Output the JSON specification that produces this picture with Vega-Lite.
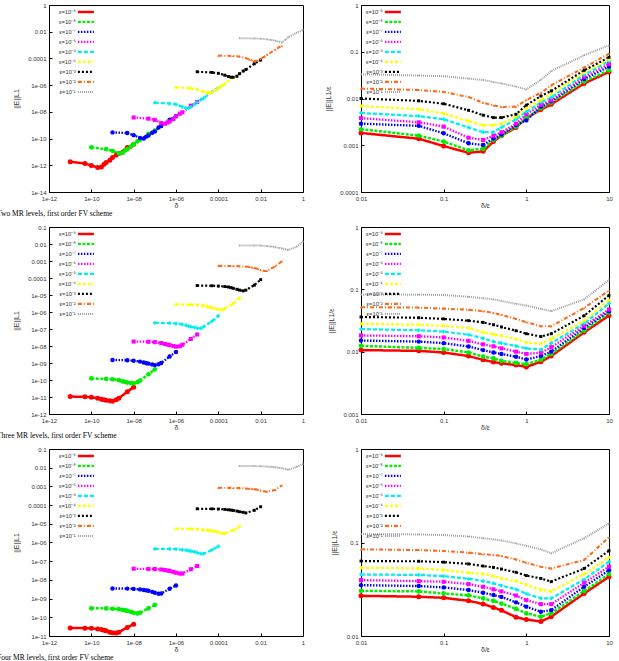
{
"$schema":"https://vega.github.io/schema/vega-lite/v6.json",
"padding":{"left":-4,"top":1,"right":5,"bottom":0},
"config":{
 "view":{"stroke":"#000","strokeWidth":1},
 "style":{"guide-label":{"fontSize":6}},
 "axis":{"grid":false,"domain":false,"tickColor":"#000","tickSize":-3,"labelFont":"Liberation Sans","labelFontSize":6,"labelColor":"#333","labelPadding":6,"labelFlush":false,"labelOverlap":false,"labelBound":false,"titleFont":"Liberation Sans","titleFontSize":7,"titleFontWeight":"normal","titleColor":"#333"},
 "axisX":{"titlePadding":0},
 "axisY":{"titlePadding":8.5},
 "legend":{"labelFont":"Liberation Sans","labelFontSize":5.8,"labelColor":"#333","rowPadding":0,"padding":0,"symbolStrokeWidth":2},
 "title":{"font":"Liberation Serif","fontSize":7.5,"fontWeight":"normal","color":"#000"}
},
"data":{"values":[
{"l":2,"k":9,"r":0.01,"q":0.00183,"d":1e-11,"e":1.83e-12},{"l":2,"k":9,"r":0.05,"q":0.00138,"d":5e-11,"e":1.38e-12},{"l":2,"k":9,"r":0.1,"q":0.00096,"d":1e-10,"e":9.6e-13},{"l":2,"k":9,"r":0.2,"q":0.00069,"d":2e-10,"e":6.9e-13},{"l":2,"k":9,"r":0.3,"q":0.00074,"d":3e-10,"e":7.4e-13},{"l":2,"k":9,"r":0.4,"q":0.0012,"d":4e-10,"e":1.2e-12},{"l":2,"k":9,"r":0.5,"q":0.0016,"d":5e-10,"e":1.6e-12},{"l":2,"k":9,"r":0.75,"q":0.0024,"d":7.5e-10,"e":2.4e-12},{"l":2,"k":9,"r":1,"q":0.0038,"d":1e-9,"e":3.8e-12},{"l":2,"k":9,"r":1.5,"q":0.0058,"d":1.5e-9,"e":5.8e-12},{"l":2,"k":9,"r":2,"q":0.0075,"d":2e-9,"e":7.5e-12},{"l":2,"k":9,"r":5,"q":0.021,"d":5e-9,"e":2.1e-11},{"l":2,"k":9,"r":10,"q":0.037,"d":1e-8,"e":3.7e-11},
{"l":2,"k":8,"r":0.01,"q":0.0022,"d":1e-10,"e":2.2e-11},{"l":2,"k":8,"r":0.05,"q":0.0016,"d":5e-10,"e":1.6e-11},{"l":2,"k":8,"r":0.1,"q":0.0012,"d":1e-9,"e":1.2e-11},{"l":2,"k":8,"r":0.2,"q":0.00078,"d":2e-9,"e":7.8e-12},{"l":2,"k":8,"r":0.3,"q":0.00084,"d":3e-9,"e":8.4e-12},{"l":2,"k":8,"r":0.4,"q":0.0013,"d":4e-9,"e":1.3e-11},{"l":2,"k":8,"r":0.5,"q":0.0016,"d":5e-9,"e":1.6e-11},{"l":2,"k":8,"r":0.75,"q":0.0025,"d":7.5e-9,"e":2.5e-11},{"l":2,"k":8,"r":1,"q":0.0038,"d":1e-8,"e":3.8e-11},{"l":2,"k":8,"r":1.5,"q":0.0062,"d":1.5e-8,"e":6.2e-11},{"l":2,"k":8,"r":2,"q":0.0082,"d":2e-8,"e":8.2e-11},{"l":2,"k":8,"r":5,"q":0.023,"d":5e-8,"e":2.3e-10},{"l":2,"k":8,"r":10,"q":0.04,"d":1e-7,"e":4e-10},
{"l":2,"k":7,"r":0.01,"q":0.0029,"d":1e-9,"e":2.9e-10},{"l":2,"k":7,"r":0.05,"q":0.0026,"d":5e-9,"e":2.6e-10},{"l":2,"k":7,"r":0.1,"q":0.0018,"d":1e-8,"e":1.8e-10},{"l":2,"k":7,"r":0.2,"q":0.0011,"d":2e-8,"e":1.1e-10},{"l":2,"k":7,"r":0.3,"q":0.00101,"d":3e-8,"e":1.01e-10},{"l":2,"k":7,"r":0.4,"q":0.0014,"d":4e-8,"e":1.4e-10},{"l":2,"k":7,"r":0.5,"q":0.0017,"d":5e-8,"e":1.7e-10},{"l":2,"k":7,"r":0.75,"q":0.0027,"d":7.5e-8,"e":2.7e-10},{"l":2,"k":7,"r":1,"q":0.0034,"d":1e-7,"e":3.4e-10},{"l":2,"k":7,"r":1.5,"q":0.0067,"d":1.5e-7,"e":6.7e-10},{"l":2,"k":7,"r":2,"q":0.0087,"d":2e-7,"e":8.7e-10},{"l":2,"k":7,"r":5,"q":0.026,"d":5e-7,"e":2.6e-9},{"l":2,"k":7,"r":10,"q":0.048,"d":1e-6,"e":4.8e-9},
{"l":2,"k":6,"r":0.01,"q":0.0038,"d":1e-8,"e":3.8e-9},{"l":2,"k":6,"r":0.05,"q":0.0031,"d":5e-8,"e":3.1e-9},{"l":2,"k":6,"r":0.1,"q":0.0025,"d":1e-7,"e":2.5e-9},{"l":2,"k":6,"r":0.2,"q":0.00145,"d":2e-7,"e":1.45e-9},{"l":2,"k":6,"r":0.3,"q":0.0013,"d":3e-7,"e":1.3e-9},{"l":2,"k":6,"r":0.4,"q":0.0016,"d":4e-7,"e":1.6e-9},{"l":2,"k":6,"r":0.5,"q":0.0019,"d":5e-7,"e":1.9e-9},{"l":2,"k":6,"r":0.75,"q":0.0029,"d":7.5e-7,"e":2.9e-9},{"l":2,"k":6,"r":1,"q":0.0046,"d":1e-6,"e":4.6e-9},{"l":2,"k":6,"r":1.5,"q":0.0073,"d":1.5e-6,"e":7.3e-9},{"l":2,"k":6,"r":2,"q":0.0091,"d":2e-6,"e":9.1e-9},{"l":2,"k":6,"r":5,"q":0.029,"d":5e-6,"e":2.9e-8},{"l":2,"k":6,"r":10,"q":0.055,"d":1e-5,"e":5.5e-8},
{"l":2,"k":5,"r":0.01,"q":0.0049,"d":1e-7,"e":4.9e-8},{"l":2,"k":5,"r":0.05,"q":0.0042,"d":5e-7,"e":4.2e-8},{"l":2,"k":5,"r":0.1,"q":0.0036,"d":1e-6,"e":3.6e-8},{"l":2,"k":5,"r":0.2,"q":0.0024,"d":2e-6,"e":2.4e-8},{"l":2,"k":5,"r":0.3,"q":0.0019,"d":3e-6,"e":1.9e-8},{"l":2,"k":5,"r":0.4,"q":0.0019,"d":4e-6,"e":1.9e-8},{"l":2,"k":5,"r":0.5,"q":0.0024,"d":5e-6,"e":2.4e-8},{"l":2,"k":5,"r":0.75,"q":0.0036,"d":7.5e-6,"e":3.6e-8},{"l":2,"k":5,"r":1,"q":0.0052,"d":1e-5,"e":5.2e-8},{"l":2,"k":5,"r":1.5,"q":0.0082,"d":1.5e-5,"e":8.2e-8},{"l":2,"k":5,"r":2,"q":0.0105,"d":2e-5,"e":1.05e-7},{"l":2,"k":5,"r":5,"q":0.032,"d":5e-5,"e":3.2e-7},{"l":2,"k":5,"r":10,"q":0.063,"d":1e-4,"e":6.3e-7},
{"l":2,"k":4,"r":0.01,"q":0.0069,"d":1e-6,"e":6.9e-7},{"l":2,"k":4,"r":0.05,"q":0.0059,"d":5e-6,"e":5.9e-7},{"l":2,"k":4,"r":0.1,"q":0.0048,"d":1e-5,"e":4.8e-7},{"l":2,"k":4,"r":0.2,"q":0.0033,"d":2e-5,"e":3.3e-7},{"l":2,"k":4,"r":0.3,"q":0.0027,"d":3e-5,"e":2.7e-7},{"l":2,"k":4,"r":0.4,"q":0.0027,"d":4e-5,"e":2.7e-7},{"l":2,"k":4,"r":0.5,"q":0.0029,"d":5e-5,"e":2.9e-7},{"l":2,"k":4,"r":0.75,"q":0.0041,"d":7.5e-5,"e":4.1e-7},{"l":2,"k":4,"r":1,"q":0.0061,"d":1e-4,"e":6.1e-7},{"l":2,"k":4,"r":1.5,"q":0.0092,"d":1.5e-4,"e":9.2e-7},{"l":2,"k":4,"r":2,"q":0.0126,"d":2e-4,"e":1.26e-6},{"l":2,"k":4,"r":5,"q":0.036,"d":5e-4,"e":3.6e-6},{"l":2,"k":4,"r":10,"q":0.069,"d":1e-3,"e":6.9e-6},
{"l":2,"k":3,"r":0.01,"q":0.01,"d":1e-5,"e":1e-5},{"l":2,"k":3,"r":0.05,"q":0.0089,"d":5e-5,"e":8.9e-6},{"l":2,"k":3,"r":0.1,"q":0.0077,"d":1e-4,"e":7.7e-6},{"l":2,"k":3,"r":0.2,"q":0.0056,"d":2e-4,"e":5.6e-6},{"l":2,"k":3,"r":0.3,"q":0.0044,"d":3e-4,"e":4.4e-6},{"l":2,"k":3,"r":0.4,"q":0.0039,"d":4e-4,"e":3.9e-6},{"l":2,"k":3,"r":0.5,"q":0.0039,"d":5e-4,"e":3.9e-6},{"l":2,"k":3,"r":0.75,"q":0.0046,"d":7.5e-4,"e":4.6e-6},{"l":2,"k":3,"r":1,"q":0.0072,"d":1e-3,"e":7.2e-6},{"l":2,"k":3,"r":1.5,"q":0.0113,"d":1.5e-3,"e":1.13e-5},{"l":2,"k":3,"r":2,"q":0.0145,"d":2e-3,"e":1.45e-5},{"l":2,"k":3,"r":5,"q":0.04,"d":5e-3,"e":4e-5},{"l":2,"k":3,"r":10,"q":0.076,"d":1e-2,"e":7.6e-5},
{"l":2,"k":2,"r":0.01,"q":0.0163,"d":1e-4,"e":1.63e-4},{"l":2,"k":2,"r":0.05,"q":0.0152,"d":5e-4,"e":1.52e-4},{"l":2,"k":2,"r":0.1,"q":0.0138,"d":1e-3,"e":1.38e-4},{"l":2,"k":2,"r":0.2,"q":0.0108,"d":2e-3,"e":1.08e-4},{"l":2,"k":2,"r":0.3,"q":0.0081,"d":3e-3,"e":8.1e-5},{"l":2,"k":2,"r":0.4,"q":0.0071,"d":4e-3,"e":7.1e-5},{"l":2,"k":2,"r":0.5,"q":0.0066,"d":5e-3,"e":6.6e-5},{"l":2,"k":2,"r":0.75,"q":0.0067,"d":7.5e-3,"e":6.7e-5},{"l":2,"k":2,"r":1,"q":0.0093,"d":1e-2,"e":9.3e-5},{"l":2,"k":2,"r":1.5,"q":0.0133,"d":1.5e-2,"e":1.33e-4},{"l":2,"k":2,"r":2,"q":0.0191,"d":2e-2,"e":1.91e-4},{"l":2,"k":2,"r":5,"q":0.046,"d":5e-2,"e":4.6e-4},{"l":2,"k":2,"r":10,"q":0.091,"d":1e-1,"e":9.1e-4},
{"l":2,"k":1,"r":0.01,"q":0.0329,"d":1e-3,"e":3.29e-3},{"l":2,"k":1,"r":0.05,"q":0.031,"d":5e-3,"e":3.1e-3},{"l":2,"k":1,"r":0.1,"q":0.03,"d":1e-2,"e":3e-3},{"l":2,"k":1,"r":0.2,"q":0.0266,"d":2e-2,"e":2.66e-3},{"l":2,"k":1,"r":0.3,"q":0.0249,"d":3e-2,"e":2.49e-3},{"l":2,"k":1,"r":0.4,"q":0.0225,"d":4e-2,"e":2.25e-3},{"l":2,"k":1,"r":0.5,"q":0.021,"d":5e-2,"e":2.1e-3},{"l":2,"k":1,"r":0.75,"q":0.018,"d":7.5e-2,"e":1.8e-3},{"l":2,"k":1,"r":1,"q":0.0157,"d":1e-1,"e":1.57e-3},{"l":2,"k":1,"r":1.5,"q":0.025,"d":1.5e-1,"e":2.5e-3},{"l":2,"k":1,"r":2,"q":0.0387,"d":2e-1,"e":3.87e-3},{"l":2,"k":1,"r":5,"q":0.084,"d":5e-1,"e":8.4e-3},{"l":2,"k":1,"r":10,"q":0.137,"d":1,"e":1.37e-2},
{"l":3,"k":9,"r":0.01,"q":0.0106,"d":1e-11,"e":1.06e-11},{"l":3,"k":9,"r":0.05,"q":0.0103,"d":5e-11,"e":1.03e-11},{"l":3,"k":9,"r":0.1,"q":0.0097,"d":1e-10,"e":9.7e-12},{"l":3,"k":9,"r":0.2,"q":0.0085,"d":2e-10,"e":8.5e-12},{"l":3,"k":9,"r":0.3,"q":0.0074,"d":3e-10,"e":7.4e-12},{"l":3,"k":9,"r":0.4,"q":0.0068,"d":4e-10,"e":6.8e-12},{"l":3,"k":9,"r":0.5,"q":0.0065,"d":5e-10,"e":6.5e-12},{"l":3,"k":9,"r":0.75,"q":0.0061,"d":7.5e-10,"e":6.1e-12},{"l":3,"k":9,"r":1,"q":0.0057,"d":1e-9,"e":5.7e-12},{"l":3,"k":9,"r":1.5,"q":0.0069,"d":1.5e-9,"e":6.9e-12},{"l":3,"k":9,"r":2,"q":0.0085,"d":2e-9,"e":8.5e-12},{"l":3,"k":9,"r":5,"q":0.0204,"d":5e-9,"e":2.04e-11},{"l":3,"k":9,"r":10,"q":0.038,"d":1e-8,"e":3.8e-11},
{"l":3,"k":8,"r":0.01,"q":0.0124,"d":1e-10,"e":1.24e-10},{"l":3,"k":8,"r":0.05,"q":0.0115,"d":5e-10,"e":1.15e-10},{"l":3,"k":8,"r":0.1,"q":0.011,"d":1e-9,"e":1.1e-10},{"l":3,"k":8,"r":0.2,"q":0.0097,"d":2e-9,"e":9.7e-11},{"l":3,"k":8,"r":0.3,"q":0.0083,"d":3e-9,"e":8.3e-11},{"l":3,"k":8,"r":0.4,"q":0.0078,"d":4e-9,"e":7.8e-11},{"l":3,"k":8,"r":0.5,"q":0.0071,"d":5e-9,"e":7.1e-11},{"l":3,"k":8,"r":0.75,"q":0.0066,"d":7.5e-9,"e":6.6e-11},{"l":3,"k":8,"r":1,"q":0.0063,"d":1e-8,"e":6.3e-11},{"l":3,"k":8,"r":1.5,"q":0.0074,"d":1.5e-8,"e":7.4e-11},{"l":3,"k":8,"r":2,"q":0.0092,"d":2e-8,"e":9.2e-11},{"l":3,"k":8,"r":5,"q":0.0218,"d":5e-8,"e":2.18e-10},{"l":3,"k":8,"r":10,"q":0.042,"d":1e-7,"e":4.2e-10},
{"l":3,"k":7,"r":0.01,"q":0.0151,"d":1e-9,"e":1.51e-9},{"l":3,"k":7,"r":0.05,"q":0.0145,"d":5e-9,"e":1.45e-9},{"l":3,"k":7,"r":0.1,"q":0.0137,"d":1e-8,"e":1.37e-9},{"l":3,"k":7,"r":0.2,"q":0.0121,"d":2e-8,"e":1.21e-9},{"l":3,"k":7,"r":0.3,"q":0.0106,"d":3e-8,"e":1.06e-9},{"l":3,"k":7,"r":0.4,"q":0.0097,"d":4e-8,"e":9.7e-10},{"l":3,"k":7,"r":0.5,"q":0.0092,"d":5e-8,"e":9.2e-10},{"l":3,"k":7,"r":0.75,"q":0.0083,"d":7.5e-8,"e":8.3e-10},{"l":3,"k":7,"r":1,"q":0.0075,"d":1e-7,"e":7.5e-10},{"l":3,"k":7,"r":1.5,"q":0.0085,"d":1.5e-7,"e":8.5e-10},{"l":3,"k":7,"r":2,"q":0.01,"d":2e-7,"e":1e-9},{"l":3,"k":7,"r":5,"q":0.024,"d":5e-7,"e":2.4e-9},{"l":3,"k":7,"r":10,"q":0.0446,"d":1e-6,"e":4.46e-9},
{"l":3,"k":6,"r":0.01,"q":0.0182,"d":1e-8,"e":1.82e-8},{"l":3,"k":6,"r":0.05,"q":0.0177,"d":5e-8,"e":1.77e-8},{"l":3,"k":6,"r":0.1,"q":0.0169,"d":1e-7,"e":1.69e-8},{"l":3,"k":6,"r":0.2,"q":0.0149,"d":2e-7,"e":1.49e-8},{"l":3,"k":6,"r":0.3,"q":0.0131,"d":3e-7,"e":1.31e-8},{"l":3,"k":6,"r":0.4,"q":0.0122,"d":4e-7,"e":1.22e-8},{"l":3,"k":6,"r":0.5,"q":0.0113,"d":5e-7,"e":1.13e-8},{"l":3,"k":6,"r":0.75,"q":0.01,"d":7.5e-7,"e":1e-8},{"l":3,"k":6,"r":1,"q":0.0092,"d":1e-6,"e":9.2e-9},{"l":3,"k":6,"r":1.5,"q":0.0096,"d":1.5e-6,"e":9.6e-9},{"l":3,"k":6,"r":2,"q":0.0118,"d":2e-6,"e":1.18e-8},{"l":3,"k":6,"r":5,"q":0.026,"d":5e-6,"e":2.6e-8},{"l":3,"k":6,"r":10,"q":0.0475,"d":1e-5,"e":4.75e-8},
{"l":3,"k":5,"r":0.01,"q":0.023,"d":1e-7,"e":2.3e-7},{"l":3,"k":5,"r":0.05,"q":0.022,"d":5e-7,"e":2.2e-7},{"l":3,"k":5,"r":0.1,"q":0.021,"d":1e-6,"e":2.1e-7},{"l":3,"k":5,"r":0.2,"q":0.0187,"d":2e-6,"e":1.87e-7},{"l":3,"k":5,"r":0.3,"q":0.0164,"d":3e-6,"e":1.64e-7},{"l":3,"k":5,"r":0.4,"q":0.0145,"d":4e-6,"e":1.45e-7},{"l":3,"k":5,"r":0.5,"q":0.0137,"d":5e-6,"e":1.37e-7},{"l":3,"k":5,"r":0.75,"q":0.0123,"d":7.5e-6,"e":1.23e-7},{"l":3,"k":5,"r":1,"q":0.0113,"d":1e-5,"e":1.13e-7},{"l":3,"k":5,"r":1.5,"q":0.0108,"d":1.5e-5,"e":1.08e-7},{"l":3,"k":5,"r":2,"q":0.0137,"d":2e-5,"e":1.37e-7},{"l":3,"k":5,"r":5,"q":0.0282,"d":5e-5,"e":2.82e-7},{"l":3,"k":5,"r":10,"q":0.059,"d":1e-4,"e":5.9e-7},
{"l":3,"k":4,"r":0.01,"q":0.028,"d":1e-6,"e":2.8e-6},{"l":3,"k":4,"r":0.05,"q":0.027,"d":5e-6,"e":2.7e-6},{"l":3,"k":4,"r":0.1,"q":0.026,"d":1e-5,"e":2.6e-6},{"l":3,"k":4,"r":0.2,"q":0.024,"d":2e-5,"e":2.4e-6},{"l":3,"k":4,"r":0.3,"q":0.0205,"d":3e-5,"e":2.05e-6},{"l":3,"k":4,"r":0.4,"q":0.019,"d":4e-5,"e":1.9e-6},{"l":3,"k":4,"r":0.5,"q":0.018,"d":5e-5,"e":1.8e-6},{"l":3,"k":4,"r":0.75,"q":0.0159,"d":7.5e-5,"e":1.59e-6},{"l":3,"k":4,"r":1,"q":0.0141,"d":1e-4,"e":1.41e-6},{"l":3,"k":4,"r":1.5,"q":0.0133,"d":1.5e-4,"e":1.33e-6},{"l":3,"k":4,"r":2,"q":0.0159,"d":2e-4,"e":1.59e-6},{"l":3,"k":4,"r":5,"q":0.0314,"d":5e-4,"e":3.14e-6},{"l":3,"k":4,"r":10,"q":0.067,"d":1e-3,"e":6.7e-6},
{"l":3,"k":3,"r":0.01,"q":0.036,"d":1e-5,"e":3.6e-5},{"l":3,"k":3,"r":0.05,"q":0.035,"d":5e-5,"e":3.5e-5},{"l":3,"k":3,"r":0.1,"q":0.0335,"d":1e-4,"e":3.35e-5},{"l":3,"k":3,"r":0.2,"q":0.0314,"d":2e-4,"e":3.14e-5},{"l":3,"k":3,"r":0.3,"q":0.0295,"d":3e-4,"e":2.95e-5},{"l":3,"k":3,"r":0.4,"q":0.027,"d":4e-4,"e":2.7e-5},{"l":3,"k":3,"r":0.5,"q":0.0249,"d":5e-4,"e":2.49e-5},{"l":3,"k":3,"r":0.75,"q":0.0217,"d":7.5e-4,"e":2.17e-5},{"l":3,"k":3,"r":1,"q":0.0194,"d":1e-3,"e":1.94e-5},{"l":3,"k":3,"r":1.5,"q":0.0175,"d":1.5e-3,"e":1.75e-5},{"l":3,"k":3,"r":2,"q":0.0194,"d":2e-3,"e":1.94e-5},{"l":3,"k":3,"r":5,"q":0.0377,"d":5e-3,"e":3.77e-5},{"l":3,"k":3,"r":10,"q":0.08,"d":1e-2,"e":8e-5},
{"l":3,"k":2,"r":0.01,"q":0.0517,"d":1e-4,"e":5.17e-4},{"l":3,"k":2,"r":0.05,"q":0.051,"d":5e-4,"e":5.1e-4},{"l":3,"k":2,"r":0.1,"q":0.049,"d":1e-3,"e":4.9e-4},{"l":3,"k":2,"r":0.2,"q":0.047,"d":2e-3,"e":4.7e-4},{"l":3,"k":2,"r":0.3,"q":0.0446,"d":3e-3,"e":4.46e-4},{"l":3,"k":2,"r":0.4,"q":0.0418,"d":4e-3,"e":4.18e-4},{"l":3,"k":2,"r":0.5,"q":0.039,"d":5e-3,"e":3.9e-4},{"l":3,"k":2,"r":0.75,"q":0.0335,"d":7.5e-3,"e":3.35e-4},{"l":3,"k":2,"r":1,"q":0.0297,"d":1e-2,"e":2.97e-4},{"l":3,"k":2,"r":1.5,"q":0.0256,"d":1.5e-2,"e":2.56e-4},{"l":3,"k":2,"r":2,"q":0.0256,"d":2e-2,"e":2.56e-4},{"l":3,"k":2,"r":5,"q":0.05,"d":5e-2,"e":5e-4},{"l":3,"k":2,"r":10,"q":0.096,"d":1e-1,"e":9.6e-4},
{"l":3,"k":1,"r":0.01,"q":0.083,"d":1e-3,"e":8.3e-3},{"l":3,"k":1,"r":0.05,"q":0.082,"d":5e-3,"e":8.2e-3},{"l":3,"k":1,"r":0.1,"q":0.081,"d":1e-2,"e":8.1e-3},{"l":3,"k":1,"r":0.2,"q":0.076,"d":2e-2,"e":7.6e-3},{"l":3,"k":1,"r":0.3,"q":0.072,"d":3e-2,"e":7.2e-3},{"l":3,"k":1,"r":0.4,"q":0.069,"d":4e-2,"e":6.9e-3},{"l":3,"k":1,"r":0.5,"q":0.065,"d":5e-2,"e":6.5e-3},{"l":3,"k":1,"r":0.75,"q":0.0585,"d":7.5e-2,"e":5.85e-3},{"l":3,"k":1,"r":1,"q":0.055,"d":1e-1,"e":5.5e-3},{"l":3,"k":1,"r":1.5,"q":0.0486,"d":1.5e-1,"e":4.86e-3},{"l":3,"k":1,"r":2,"q":0.0446,"d":2e-1,"e":4.46e-3},{"l":3,"k":1,"r":5,"q":0.069,"d":5e-1,"e":6.9e-3},{"l":3,"k":1,"r":10,"q":0.142,"d":1,"e":1.42e-2},
{"l":4,"k":9,"r":0.01,"q":0.0269,"d":1e-11,"e":2.69e-11},{"l":4,"k":9,"r":0.05,"q":0.0263,"d":5e-11,"e":2.63e-11},{"l":4,"k":9,"r":0.1,"q":0.0256,"d":1e-10,"e":2.56e-11},{"l":4,"k":9,"r":0.2,"q":0.0238,"d":2e-10,"e":2.38e-11},{"l":4,"k":9,"r":0.3,"q":0.022,"d":3e-10,"e":2.2e-11},{"l":4,"k":9,"r":0.4,"q":0.0202,"d":4e-10,"e":2.02e-11},{"l":4,"k":9,"r":0.5,"q":0.0188,"d":5e-10,"e":1.88e-11},{"l":4,"k":9,"r":0.75,"q":0.0159,"d":7.5e-10,"e":1.59e-11},{"l":4,"k":9,"r":1,"q":0.015,"d":1e-9,"e":1.5e-11},{"l":4,"k":9,"r":1.5,"q":0.0143,"d":1.5e-9,"e":1.43e-11},{"l":4,"k":9,"r":2,"q":0.0161,"d":2e-9,"e":1.61e-11},{"l":4,"k":9,"r":5,"q":0.0285,"d":5e-9,"e":2.85e-11},{"l":4,"k":9,"r":10,"q":0.043,"d":1e-8,"e":4.3e-11},
{"l":4,"k":8,"r":0.01,"q":0.0304,"d":1e-10,"e":3.04e-10},{"l":4,"k":8,"r":0.05,"q":0.03,"d":5e-10,"e":3e-10},{"l":4,"k":8,"r":0.1,"q":0.0285,"d":1e-9,"e":2.85e-10},{"l":4,"k":8,"r":0.2,"q":0.0272,"d":2e-9,"e":2.72e-10},{"l":4,"k":8,"r":0.3,"q":0.0252,"d":3e-9,"e":2.52e-10},{"l":4,"k":8,"r":0.4,"q":0.0237,"d":4e-9,"e":2.37e-10},{"l":4,"k":8,"r":0.5,"q":0.0222,"d":5e-9,"e":2.22e-10},{"l":4,"k":8,"r":0.75,"q":0.0195,"d":7.5e-9,"e":1.95e-10},{"l":4,"k":8,"r":1,"q":0.0175,"d":1e-8,"e":1.75e-10},{"l":4,"k":8,"r":1.5,"q":0.0161,"d":1.5e-8,"e":1.61e-10},{"l":4,"k":8,"r":2,"q":0.0175,"d":2e-8,"e":1.75e-10},{"l":4,"k":8,"r":5,"q":0.0302,"d":5e-8,"e":3.02e-10},{"l":4,"k":8,"r":10,"q":0.046,"d":1e-7,"e":4.6e-10},
{"l":4,"k":7,"r":0.01,"q":0.035,"d":1e-9,"e":3.5e-9},{"l":4,"k":7,"r":0.05,"q":0.0342,"d":5e-9,"e":3.42e-9},{"l":4,"k":7,"r":0.1,"q":0.0331,"d":1e-8,"e":3.31e-9},{"l":4,"k":7,"r":0.2,"q":0.031,"d":2e-8,"e":3.1e-9},{"l":4,"k":7,"r":0.3,"q":0.029,"d":3e-8,"e":2.9e-9},{"l":4,"k":7,"r":0.4,"q":0.0274,"d":4e-8,"e":2.74e-9},{"l":4,"k":7,"r":0.5,"q":0.0262,"d":5e-8,"e":2.62e-9},{"l":4,"k":7,"r":0.75,"q":0.0229,"d":7.5e-8,"e":2.29e-9},{"l":4,"k":7,"r":1,"q":0.0206,"d":1e-7,"e":2.06e-9},{"l":4,"k":7,"r":1.5,"q":0.0182,"d":1.5e-7,"e":1.82e-9},{"l":4,"k":7,"r":2,"q":0.0189,"d":2e-7,"e":1.89e-9},{"l":4,"k":7,"r":5,"q":0.0336,"d":5e-7,"e":3.36e-9},{"l":4,"k":7,"r":10,"q":0.0505,"d":1e-6,"e":5.05e-9},
{"l":4,"k":6,"r":0.01,"q":0.0396,"d":1e-8,"e":3.96e-8},{"l":4,"k":6,"r":0.05,"q":0.0386,"d":5e-8,"e":3.86e-8},{"l":4,"k":6,"r":0.1,"q":0.038,"d":1e-7,"e":3.8e-8},{"l":4,"k":6,"r":0.2,"q":0.0359,"d":2e-7,"e":3.59e-8},{"l":4,"k":6,"r":0.3,"q":0.0336,"d":3e-7,"e":3.36e-8},{"l":4,"k":6,"r":0.4,"q":0.0316,"d":4e-7,"e":3.16e-8},{"l":4,"k":6,"r":0.5,"q":0.03,"d":5e-7,"e":3e-8},{"l":4,"k":6,"r":0.75,"q":0.0271,"d":7.5e-7,"e":2.71e-8},{"l":4,"k":6,"r":1,"q":0.0242,"d":1e-6,"e":2.42e-8},{"l":4,"k":6,"r":1.5,"q":0.0219,"d":1.5e-6,"e":2.19e-8},{"l":4,"k":6,"r":2,"q":0.0219,"d":2e-6,"e":2.19e-8},{"l":4,"k":6,"r":5,"q":0.0371,"d":5e-6,"e":3.71e-8},{"l":4,"k":6,"r":10,"q":0.0552,"d":1e-5,"e":5.52e-8},
{"l":4,"k":5,"r":0.01,"q":0.0455,"d":1e-7,"e":4.55e-7},{"l":4,"k":5,"r":0.05,"q":0.045,"d":5e-7,"e":4.5e-7},{"l":4,"k":5,"r":0.1,"q":0.0437,"d":1e-6,"e":4.37e-7},{"l":4,"k":5,"r":0.2,"q":0.0409,"d":2e-6,"e":4.09e-7},{"l":4,"k":5,"r":0.3,"q":0.0387,"d":3e-6,"e":3.87e-7},{"l":4,"k":5,"r":0.4,"q":0.0366,"d":4e-6,"e":3.66e-7},{"l":4,"k":5,"r":0.5,"q":0.0346,"d":5e-6,"e":3.46e-7},{"l":4,"k":5,"r":0.75,"q":0.0316,"d":7.5e-6,"e":3.16e-7},{"l":4,"k":5,"r":1,"q":0.0284,"d":1e-5,"e":2.84e-7},{"l":4,"k":5,"r":1.5,"q":0.0253,"d":1.5e-5,"e":2.53e-7},{"l":4,"k":5,"r":2,"q":0.0253,"d":2e-5,"e":2.53e-7},{"l":4,"k":5,"r":5,"q":0.0403,"d":5e-5,"e":4.03e-7},{"l":4,"k":5,"r":10,"q":0.0623,"d":1e-4,"e":6.23e-7},
{"l":4,"k":4,"r":0.01,"q":0.0537,"d":1e-6,"e":5.37e-6},{"l":4,"k":4,"r":0.05,"q":0.0529,"d":5e-6,"e":5.29e-6},{"l":4,"k":4,"r":0.1,"q":0.0508,"d":1e-5,"e":5.08e-6},{"l":4,"k":4,"r":0.2,"q":0.0476,"d":2e-5,"e":4.76e-6},{"l":4,"k":4,"r":0.3,"q":0.046,"d":3e-5,"e":4.6e-6},{"l":4,"k":4,"r":0.4,"q":0.0437,"d":4e-5,"e":4.37e-6},{"l":4,"k":4,"r":0.5,"q":0.0413,"d":5e-5,"e":4.13e-6},{"l":4,"k":4,"r":0.75,"q":0.0387,"d":7.5e-5,"e":3.87e-6},{"l":4,"k":4,"r":1,"q":0.0353,"d":1e-4,"e":3.53e-6},{"l":4,"k":4,"r":1.5,"q":0.0312,"d":1.5e-4,"e":3.12e-6},{"l":4,"k":4,"r":2,"q":0.03,"d":2e-4,"e":3e-6},{"l":4,"k":4,"r":5,"q":0.0458,"d":5e-4,"e":4.58e-6},{"l":4,"k":4,"r":10,"q":0.0694,"d":1e-3,"e":6.94e-6},
{"l":4,"k":3,"r":0.01,"q":0.0633,"d":1e-5,"e":6.33e-5},{"l":4,"k":3,"r":0.05,"q":0.063,"d":5e-5,"e":6.3e-5},{"l":4,"k":3,"r":0.1,"q":0.0616,"d":1e-4,"e":6.16e-5},{"l":4,"k":3,"r":0.2,"q":0.059,"d":2e-4,"e":5.9e-5},{"l":4,"k":3,"r":0.3,"q":0.056,"d":3e-4,"e":5.6e-5},{"l":4,"k":3,"r":0.4,"q":0.0542,"d":4e-4,"e":5.42e-5},{"l":4,"k":3,"r":0.5,"q":0.052,"d":5e-4,"e":5.2e-5},{"l":4,"k":3,"r":0.75,"q":0.048,"d":7.5e-4,"e":4.8e-5},{"l":4,"k":3,"r":1,"q":0.0443,"d":1e-3,"e":4.43e-5},{"l":4,"k":3,"r":1.5,"q":0.0413,"d":1.5e-3,"e":4.13e-5},{"l":4,"k":3,"r":2,"q":0.0381,"d":2e-3,"e":3.81e-5},{"l":4,"k":3,"r":5,"q":0.0527,"d":5e-3,"e":5.27e-5},{"l":4,"k":3,"r":10,"q":0.0817,"d":1e-2,"e":8.17e-5},
{"l":4,"k":2,"r":0.01,"q":0.0845,"d":1e-4,"e":8.45e-4},{"l":4,"k":2,"r":0.05,"q":0.083,"d":5e-4,"e":8.3e-4},{"l":4,"k":2,"r":0.1,"q":0.081,"d":1e-3,"e":8.1e-4},{"l":4,"k":2,"r":0.2,"q":0.078,"d":2e-3,"e":7.8e-4},{"l":4,"k":2,"r":0.3,"q":0.075,"d":3e-3,"e":7.5e-4},{"l":4,"k":2,"r":0.4,"q":0.0735,"d":4e-3,"e":7.35e-4},{"l":4,"k":2,"r":0.5,"q":0.0716,"d":5e-3,"e":7.16e-4},{"l":4,"k":2,"r":0.75,"q":0.066,"d":7.5e-3,"e":6.6e-4},{"l":4,"k":2,"r":1,"q":0.0607,"d":1e-2,"e":6.07e-4},{"l":4,"k":2,"r":1.5,"q":0.055,"d":1.5e-2,"e":5.5e-4},{"l":4,"k":2,"r":2,"q":0.0527,"d":2e-2,"e":5.27e-4},{"l":4,"k":2,"r":5,"q":0.0649,"d":5e-2,"e":6.49e-4},{"l":4,"k":2,"r":10,"q":0.114,"d":1e-1,"e":1.14e-3},
{"l":4,"k":1,"r":0.01,"q":0.123,"d":1e-3,"e":1.23e-2},{"l":4,"k":1,"r":0.05,"q":0.122,"d":5e-3,"e":1.22e-2},{"l":4,"k":1,"r":0.1,"q":0.12,"d":1e-2,"e":1.2e-2},{"l":4,"k":1,"r":0.2,"q":0.116,"d":2e-2,"e":1.16e-2},{"l":4,"k":1,"r":0.3,"q":0.111,"d":3e-2,"e":1.11e-2},{"l":4,"k":1,"r":0.4,"q":0.108,"d":4e-2,"e":1.08e-2},{"l":4,"k":1,"r":0.5,"q":0.105,"d":5e-2,"e":1.05e-2},{"l":4,"k":1,"r":0.75,"q":0.098,"d":7.5e-2,"e":9.8e-3},{"l":4,"k":1,"r":1,"q":0.092,"d":1e-1,"e":9.2e-3},{"l":4,"k":1,"r":1.5,"q":0.0845,"d":1.5e-1,"e":8.45e-3},{"l":4,"k":1,"r":2,"q":0.0766,"d":2e-1,"e":7.66e-3},{"l":4,"k":1,"r":5,"q":0.111,"d":5e-1,"e":1.11e-2},{"l":4,"k":1,"r":10,"q":0.16,"d":1,"e":1.6e-2}
]},
"columns":2,
"spacing":{"row":35,"column":58},
"bounds":"flush",
"resolve":{"scale":{"x":"independent","y":"independent","color":"independent","strokeDash":"independent","strokeWidth":"independent","shape":"independent","size":"independent"},"legend":{"color":"independent","strokeDash":"independent","strokeWidth":"independent","shape":"independent","size":"independent"}},
"concat":[
{"width":254,"height":187,
 "title":{"text":"Two MR levels, first order FV scheme","orient":"bottom","anchor":"start","frame":"group","dx":-52,"offset":2},
 "transform":[{"filter":"datum.l == 2"}],
 "encoding":{
  "x":{"field":"d","type":"quantitative","scale":{"type":"log","domain":[1e-12,1],"nice":false},"axis":{"values":[1e-12,1e-10,1e-8,1e-6,1e-4,1e-2,1],"title":"δ","labelExpr":"datum.value >= 0.0001 ? format(datum.value, '') : '1e-' + (round(-log(datum.value)/LN10) < 10 ? '0' : '') + round(-log(datum.value)/LN10)"}},
  "y":{"field":"e","type":"quantitative","scale":{"type":"log","domain":[1e-14,1],"nice":false},"axis":{"values":[1e-14,1e-12,1e-10,1e-8,1e-6,1e-4,1e-2,1],"title":"||E||L1","labelExpr":"datum.value >= 0.0001 ? format(datum.value, '') : '1e-' + (round(-log(datum.value)/LN10) < 10 ? '0' : '') + round(-log(datum.value)/LN10)"}}
 },
 "layer":[
  {"mark":{"type":"line"},"encoding":{
   "color":{"field":"k","type":"nominal","scale":{"domain":[9,8,7,6,5,4,3,2,1],"range":["#ff0000","#00ee00","#0000ff","#ff00ff","#00eeee","#ffff00","#000000","#ff6a1a","#a0a0a0"]},"legend":{"title":null,"orient":"none","legendX":34,"legendY":4,"rowPadding":0,"labelFontSize":5.8,"labelExpr":"'ε=10' + ['','⁻¹','⁻²','⁻³','⁻⁴','⁻⁵','⁻⁶','⁻⁷','⁻⁸','⁻⁹'][datum.value]","labelAlign":"right","labelOffset":-13,"symbolType":"M-16,0H16","symbolSize":1}},
   "strokeDash":{"field":"k","type":"nominal","scale":{"domain":[9,8,7,6,5,4,3,2,1],"range":[[1,0],[3,1.5],[1.5,1.5],[1.5,1.5],[4,2],[3,2],[2,2],[4,2,1,2],[1,1]]}},
   "strokeWidth":{"field":"k","type":"ordinal","scale":{"domain":[9,8,7,6,5,4,3,2,1],"range":[2.5,2,2,1.5,2,2,2,2,1]},"legend":null}}},
  {"mark":{"type":"point","filled":true,"opacity":1},"encoding":{
   "color":{"field":"k","type":"nominal","scale":{"domain":[9,8,7,6,5,4,3,2,1],"range":["#ff0000","#00ee00","#0000ff","#ff00ff","#00eeee","#ffff00","#000000","#ff6a1a","#a0a0a0"]},"legend":null},
   "shape":{"field":"k","type":"nominal","scale":{"domain":[1,2,3,4,5,6,7,8,9],"range":["diamond","triangle-up","square","circle","cross","square","circle","circle","circle"]},"legend":null},
   "size":{"field":"k","type":"ordinal","scale":{"domain":[1,2,3,4,5,6,7,8,9],"range":[3,25,6,20,8,25,16,12,4]},"legend":null}}}
 ]},
{"width":248,"height":187,
 "transform":[{"filter":"datum.l == 2"}],
 "encoding":{
  "x":{"field":"r","type":"quantitative","scale":{"type":"log","domain":[0.01,10],"nice":false},"axis":{"values":[0.01,0.1,1,10],"title":"δ/ε","format":""}},
  "y":{"field":"q","type":"quantitative","scale":{"type":"log","domain":[1e-4,1],"nice":false},"axis":{"values":[1e-4,1e-3,1e-2,0.1,1],"title":"||E||L1/ε","format":""}}
 },
 "layer":[
  {"mark":{"type":"line"},"encoding":{
   "color":{"field":"k","type":"nominal","scale":{"domain":[9,8,7,6,5,4,3,2,1],"range":["#ff0000","#00ee00","#0000ff","#ff00ff","#00eeee","#ffff00","#000000","#ff6a1a","#a0a0a0"]},"legend":{"title":null,"orient":"none","legendX":29,"legendY":4,"rowPadding":0,"labelFontSize":5.8,"labelExpr":"'ε=10' + ['','⁻¹','⁻²','⁻³','⁻⁴','⁻⁵','⁻⁶','⁻⁷','⁻⁸','⁻⁹'][datum.value]","labelAlign":"right","labelOffset":-13,"symbolType":"M-16,0H16","symbolSize":1}},
   "strokeDash":{"field":"k","type":"nominal","scale":{"domain":[9,8,7,6,5,4,3,2,1],"range":[[1,0],[3,1.5],[1.5,1.5],[1.5,1.5],[4,2],[3,2],[2,2],[4,2,1,2],[1,1]]}},
   "strokeWidth":{"field":"k","type":"ordinal","scale":{"domain":[9,8,7,6,5,4,3,2,1],"range":[2.5,2,2,1.5,2,2,2,2,1]},"legend":null}}},
  {"mark":{"type":"point","filled":true,"opacity":1},"encoding":{
   "color":{"field":"k","type":"nominal","scale":{"domain":[9,8,7,6,5,4,3,2,1],"range":["#ff0000","#00ee00","#0000ff","#ff00ff","#00eeee","#ffff00","#000000","#ff6a1a","#a0a0a0"]},"legend":null},
   "shape":{"field":"k","type":"nominal","scale":{"domain":[1,2,3,4,5,6,7,8,9],"range":["diamond","triangle-up","square","circle","cross","square","circle","circle","circle"]},"legend":null},
   "size":{"field":"k","type":"ordinal","scale":{"domain":[1,2,3,4,5,6,7,8,9],"range":[3,25,6,20,8,25,16,12,4]},"legend":null}}}
 ]},
{"width":254,"height":187,
 "title":{"text":"Three MR levels, first order FV scheme","orient":"bottom","anchor":"start","frame":"group","dx":-52,"offset":2},
 "transform":[{"filter":"datum.l == 3"}],
 "encoding":{
  "x":{"field":"d","type":"quantitative","scale":{"type":"log","domain":[1e-12,1],"nice":false},"axis":{"values":[1e-12,1e-10,1e-8,1e-6,1e-4,1e-2,1],"title":"δ","labelExpr":"datum.value >= 0.0001 ? format(datum.value, '') : '1e-' + (round(-log(datum.value)/LN10) < 10 ? '0' : '') + round(-log(datum.value)/LN10)"}},
  "y":{"field":"e","type":"quantitative","scale":{"type":"log","domain":[1e-12,0.1],"nice":false},"axis":{"values":[1e-12,1e-11,1e-10,1e-9,1e-8,1e-7,1e-6,1e-5,1e-4,1e-3,1e-2,0.1],"title":"||E||L1","labelExpr":"datum.value >= 0.0001 ? format(datum.value, '') : '1e-' + (round(-log(datum.value)/LN10) < 10 ? '0' : '') + round(-log(datum.value)/LN10)"}}
 },
 "layer":[
  {"mark":{"type":"line"},"encoding":{
   "color":{"field":"k","type":"nominal","scale":{"domain":[9,8,7,6,5,4,3,2,1],"range":["#ff0000","#00ee00","#0000ff","#ff00ff","#00eeee","#ffff00","#000000","#ff6a1a","#a0a0a0"]},"legend":{"title":null,"orient":"none","legendX":34,"legendY":4,"rowPadding":0,"labelFontSize":5.8,"labelExpr":"'ε=10' + ['','⁻¹','⁻²','⁻³','⁻⁴','⁻⁵','⁻⁶','⁻⁷','⁻⁸','⁻⁹'][datum.value]","labelAlign":"right","labelOffset":-13,"symbolType":"M-16,0H16","symbolSize":1}},
   "strokeDash":{"field":"k","type":"nominal","scale":{"domain":[9,8,7,6,5,4,3,2,1],"range":[[1,0],[3,1.5],[1.5,1.5],[1.5,1.5],[4,2],[3,2],[2,2],[4,2,1,2],[1,1]]}},
   "strokeWidth":{"field":"k","type":"ordinal","scale":{"domain":[9,8,7,6,5,4,3,2,1],"range":[2.5,2,2,1.5,2,2,2,2,1]},"legend":null}}},
  {"mark":{"type":"point","filled":true,"opacity":1},"encoding":{
   "color":{"field":"k","type":"nominal","scale":{"domain":[9,8,7,6,5,4,3,2,1],"range":["#ff0000","#00ee00","#0000ff","#ff00ff","#00eeee","#ffff00","#000000","#ff6a1a","#a0a0a0"]},"legend":null},
   "shape":{"field":"k","type":"nominal","scale":{"domain":[1,2,3,4,5,6,7,8,9],"range":["diamond","triangle-up","square","circle","cross","square","circle","circle","circle"]},"legend":null},
   "size":{"field":"k","type":"ordinal","scale":{"domain":[1,2,3,4,5,6,7,8,9],"range":[3,25,6,20,8,25,16,12,4]},"legend":null}}}
 ]},
{"width":248,"height":187,
 "transform":[{"filter":"datum.l == 3"}],
 "encoding":{
  "x":{"field":"r","type":"quantitative","scale":{"type":"log","domain":[0.01,10],"nice":false},"axis":{"values":[0.01,0.1,1,10],"title":"δ/ε","format":""}},
  "y":{"field":"q","type":"quantitative","scale":{"type":"log","domain":[1e-3,1],"nice":false},"axis":{"values":[1e-3,1e-2,0.1,1],"title":"||E||L1/ε","format":""}}
 },
 "layer":[
  {"mark":{"type":"line"},"encoding":{
   "color":{"field":"k","type":"nominal","scale":{"domain":[9,8,7,6,5,4,3,2,1],"range":["#ff0000","#00ee00","#0000ff","#ff00ff","#00eeee","#ffff00","#000000","#ff6a1a","#a0a0a0"]},"legend":{"title":null,"orient":"none","legendX":29,"legendY":4,"rowPadding":0,"labelFontSize":5.8,"labelExpr":"'ε=10' + ['','⁻¹','⁻²','⁻³','⁻⁴','⁻⁵','⁻⁶','⁻⁷','⁻⁸','⁻⁹'][datum.value]","labelAlign":"right","labelOffset":-13,"symbolType":"M-16,0H16","symbolSize":1}},
   "strokeDash":{"field":"k","type":"nominal","scale":{"domain":[9,8,7,6,5,4,3,2,1],"range":[[1,0],[3,1.5],[1.5,1.5],[1.5,1.5],[4,2],[3,2],[2,2],[4,2,1,2],[1,1]]}},
   "strokeWidth":{"field":"k","type":"ordinal","scale":{"domain":[9,8,7,6,5,4,3,2,1],"range":[2.5,2,2,1.5,2,2,2,2,1]},"legend":null}}},
  {"mark":{"type":"point","filled":true,"opacity":1},"encoding":{
   "color":{"field":"k","type":"nominal","scale":{"domain":[9,8,7,6,5,4,3,2,1],"range":["#ff0000","#00ee00","#0000ff","#ff00ff","#00eeee","#ffff00","#000000","#ff6a1a","#a0a0a0"]},"legend":null},
   "shape":{"field":"k","type":"nominal","scale":{"domain":[1,2,3,4,5,6,7,8,9],"range":["diamond","triangle-up","square","circle","cross","square","circle","circle","circle"]},"legend":null},
   "size":{"field":"k","type":"ordinal","scale":{"domain":[1,2,3,4,5,6,7,8,9],"range":[3,25,6,20,8,25,16,12,4]},"legend":null}}}
 ]},
{"width":254,"height":187,
 "title":{"text":"Four MR levels, first order FV scheme","orient":"bottom","anchor":"start","frame":"group","dx":-52,"offset":2},
 "transform":[{"filter":"datum.l == 4"}],
 "encoding":{
  "x":{"field":"d","type":"quantitative","scale":{"type":"log","domain":[1e-12,1],"nice":false},"axis":{"values":[1e-12,1e-10,1e-8,1e-6,1e-4,1e-2,1],"title":"δ","labelExpr":"datum.value >= 0.0001 ? format(datum.value, '') : '1e-' + (round(-log(datum.value)/LN10) < 10 ? '0' : '') + round(-log(datum.value)/LN10)"}},
  "y":{"field":"e","type":"quantitative","scale":{"type":"log","domain":[1e-11,0.1],"nice":false},"axis":{"values":[1e-11,1e-10,1e-9,1e-8,1e-7,1e-6,1e-5,1e-4,1e-3,1e-2,0.1],"title":"||E||L1","labelExpr":"datum.value >= 0.0001 ? format(datum.value, '') : '1e-' + (round(-log(datum.value)/LN10) < 10 ? '0' : '') + round(-log(datum.value)/LN10)"}}
 },
 "layer":[
  {"mark":{"type":"line"},"encoding":{
   "color":{"field":"k","type":"nominal","scale":{"domain":[9,8,7,6,5,4,3,2,1],"range":["#ff0000","#00ee00","#0000ff","#ff00ff","#00eeee","#ffff00","#000000","#ff6a1a","#a0a0a0"]},"legend":{"title":null,"orient":"none","legendX":34,"legendY":4,"rowPadding":0,"labelFontSize":5.8,"labelExpr":"'ε=10' + ['','⁻¹','⁻²','⁻³','⁻⁴','⁻⁵','⁻⁶','⁻⁷','⁻⁸','⁻⁹'][datum.value]","labelAlign":"right","labelOffset":-13,"symbolType":"M-16,0H16","symbolSize":1}},
   "strokeDash":{"field":"k","type":"nominal","scale":{"domain":[9,8,7,6,5,4,3,2,1],"range":[[1,0],[3,1.5],[1.5,1.5],[1.5,1.5],[4,2],[3,2],[2,2],[4,2,1,2],[1,1]]}},
   "strokeWidth":{"field":"k","type":"ordinal","scale":{"domain":[9,8,7,6,5,4,3,2,1],"range":[2.5,2,2,1.5,2,2,2,2,1]},"legend":null}}},
  {"mark":{"type":"point","filled":true,"opacity":1},"encoding":{
   "color":{"field":"k","type":"nominal","scale":{"domain":[9,8,7,6,5,4,3,2,1],"range":["#ff0000","#00ee00","#0000ff","#ff00ff","#00eeee","#ffff00","#000000","#ff6a1a","#a0a0a0"]},"legend":null},
   "shape":{"field":"k","type":"nominal","scale":{"domain":[1,2,3,4,5,6,7,8,9],"range":["diamond","triangle-up","square","circle","cross","square","circle","circle","circle"]},"legend":null},
   "size":{"field":"k","type":"ordinal","scale":{"domain":[1,2,3,4,5,6,7,8,9],"range":[3,25,6,20,8,25,16,12,4]},"legend":null}}}
 ]},
{"width":248,"height":187,
 "transform":[{"filter":"datum.l == 4"}],
 "encoding":{
  "x":{"field":"r","type":"quantitative","scale":{"type":"log","domain":[0.01,10],"nice":false},"axis":{"values":[0.01,0.1,1,10],"title":"δ/ε","format":""}},
  "y":{"field":"q","type":"quantitative","scale":{"type":"log","domain":[0.01,1],"nice":false},"axis":{"values":[0.01,0.1,1],"title":"||E||L1/ε","format":""}}
 },
 "layer":[
  {"mark":{"type":"line"},"encoding":{
   "color":{"field":"k","type":"nominal","scale":{"domain":[9,8,7,6,5,4,3,2,1],"range":["#ff0000","#00ee00","#0000ff","#ff00ff","#00eeee","#ffff00","#000000","#ff6a1a","#a0a0a0"]},"legend":{"title":null,"orient":"none","legendX":29,"legendY":4,"rowPadding":0,"labelFontSize":5.8,"labelExpr":"'ε=10' + ['','⁻¹','⁻²','⁻³','⁻⁴','⁻⁵','⁻⁶','⁻⁷','⁻⁸','⁻⁹'][datum.value]","labelAlign":"right","labelOffset":-13,"symbolType":"M-16,0H16","symbolSize":1}},
   "strokeDash":{"field":"k","type":"nominal","scale":{"domain":[9,8,7,6,5,4,3,2,1],"range":[[1,0],[3,1.5],[1.5,1.5],[1.5,1.5],[4,2],[3,2],[2,2],[4,2,1,2],[1,1]]}},
   "strokeWidth":{"field":"k","type":"ordinal","scale":{"domain":[9,8,7,6,5,4,3,2,1],"range":[2.5,2,2,1.5,2,2,2,2,1]},"legend":null}}},
  {"mark":{"type":"point","filled":true,"opacity":1},"encoding":{
   "color":{"field":"k","type":"nominal","scale":{"domain":[9,8,7,6,5,4,3,2,1],"range":["#ff0000","#00ee00","#0000ff","#ff00ff","#00eeee","#ffff00","#000000","#ff6a1a","#a0a0a0"]},"legend":null},
   "shape":{"field":"k","type":"nominal","scale":{"domain":[1,2,3,4,5,6,7,8,9],"range":["diamond","triangle-up","square","circle","cross","square","circle","circle","circle"]},"legend":null},
   "size":{"field":"k","type":"ordinal","scale":{"domain":[1,2,3,4,5,6,7,8,9],"range":[3,25,6,20,8,25,16,12,4]},"legend":null}}}
 ]}
]
}
